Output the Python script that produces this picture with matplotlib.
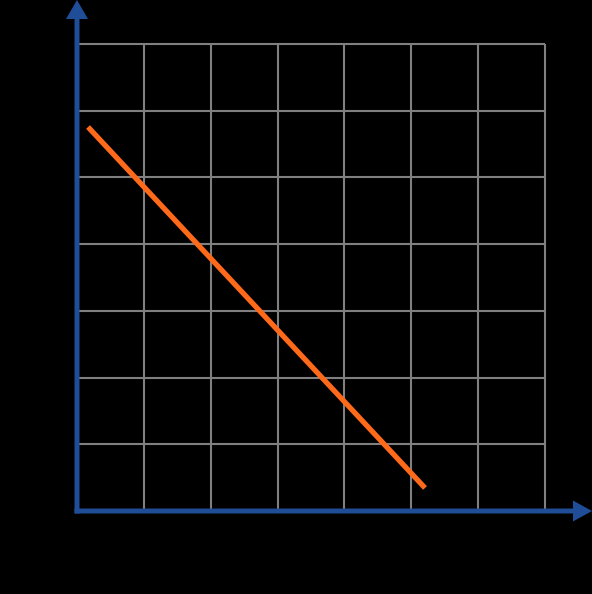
import matplotlib
matplotlib.use("Agg")
import matplotlib.pyplot as plt

# grid cells and the plotted line
grid_cols = [0, 1, 2, 3, 4, 5, 6, 7]
grid_rows = [0, 1, 2, 3, 4, 5, 6, 7]
line_x = [0.165, 5.205]
line_y = [5.756, 0.345]

axis_blue = "#1f4d98"
grid_grey = "#808080"
line_orange = "#ff6a1a"

fig = plt.figure(figsize=(5.92, 5.94), dpi=100, facecolor="black")
ax = fig.add_axes([0, 0, 1, 1])
ax.set_facecolor("black")
ax.set_xlim(-77 / 66.86, (592 - 77) / 66.86)
ax.set_ylim(-(594 - 511) / 66.71, 511 / 66.71)
ax.axis("off")

ax.vlines(grid_cols[1:], 0, grid_rows[-1], color=grid_grey, lw=1.5, zorder=1)
ax.hlines(grid_rows[1:], 0, grid_cols[-1], color=grid_grey, lw=1.5, zorder=1)

ax.plot(line_x, line_y, color=line_orange, lw=3.8, solid_capstyle="butt", zorder=3)

# axis arrows
w = 5 / 66.8
x0, x1 = ax.get_xlim()
y0, y1 = ax.get_ylim()
ax.arrow(0, -w / 2, 0, y1 + w / 2, width=w, head_width=22 / 66.8, head_length=19 / 66.7,
         length_includes_head=True, color=axis_blue, lw=0, zorder=4)
ax.arrow(-w / 2, 0, x1 + w / 2, 0, width=w, head_width=21 / 66.7, head_length=19 / 66.8,
         length_includes_head=True, color=axis_blue, lw=0, zorder=4)

fig.savefig("out.png", dpi=100, facecolor="black")
